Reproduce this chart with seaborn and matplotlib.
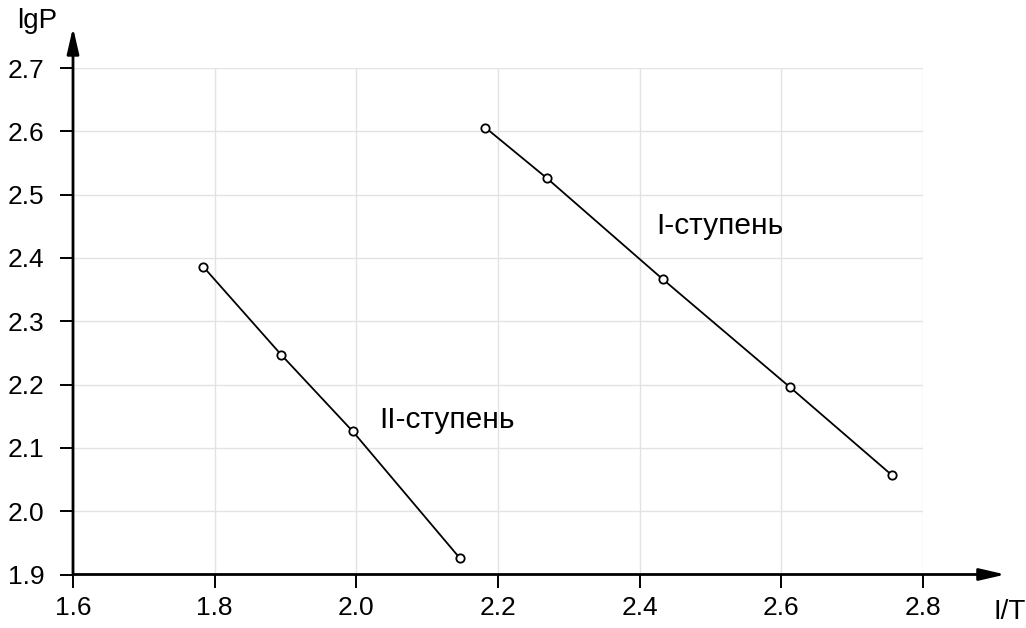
import pandas as pd
import matplotlib
matplotlib.use("Agg")
import matplotlib.pyplot as plt
import seaborn as sns

# Data
x_stage1 = [2.182, 2.269, 2.433, 2.612, 2.756]
y_stage1 = [2.606, 2.526, 2.366, 2.196, 2.057]
x_stage2 = [1.784, 1.894, 1.995, 2.146]
y_stage2 = [2.386, 2.247, 2.126, 1.926]
stage_names = ["I-ступень", "II-ступень"]
x_ticks = [1.6, 1.8, 2.0, 2.2, 2.4, 2.6, 2.8]
y_ticks = [1.9, 2.0, 2.1, 2.2, 2.3, 2.4, 2.5, 2.6, 2.7]

df = pd.concat([
    pd.DataFrame({"x": x_stage1, "y": y_stage1, "stage": stage_names[0]}),
    pd.DataFrame({"x": x_stage2, "y": y_stage2, "stage": stage_names[1]}),
])

sns.set_theme(style="white")
plt.rcParams["font.family"] = ["Liberation Sans", "DejaVu Sans"]
plt.rcParams["text.color"] = "black"
plt.rcParams["xtick.color"] = "black"
plt.rcParams["ytick.color"] = "black"

fig = plt.figure(figsize=(10.26, 6.28), dpi=100)
ax = fig.add_axes([73 / 1026, (628 - 574.5) / 628, 850 / 1026, 506.5 / 628])

sns.lineplot(data=df, x="x", y="y", units="stage", estimator=None, sort=False,
             color="black", linewidth=1.3, marker="o", markersize=6,
             markerfacecolor="white", markeredgecolor="black",
             markeredgewidth=1.3, ax=ax)

ax.set_xlim(1.6, 2.8)
ax.set_ylim(1.9, 2.7)
ax.set_xticks(x_ticks)
ax.set_yticks(y_ticks)
ax.set_xticklabels([f"{v:.1f}" for v in x_ticks])
ax.set_yticklabels([f"{v:.1f}" for v in y_ticks])
ax.grid(True, color="#e3e3e3", linewidth=1)
ax.set_axisbelow(True)
for s in ax.spines.values():
    s.set_visible(False)
ax.tick_params(axis="both", direction="out", length=9.5, width=1.4,
               color="black", labelsize=19, bottom=True, left=True)
ax.tick_params(axis="x", pad=6)
ax.tick_params(axis="y", pad=11)
ax.set_xlabel("")
ax.set_ylabel("")

# Arrowed axes
arrow = dict(arrowstyle="-|>,head_length=1.3,head_width=0.3",
             color="black", lw=2, shrinkA=0, shrinkB=0)
ax.annotate("", xy=(1.097, 0), xytext=(0, 0), xycoords="axes fraction",
            arrowprops=arrow, annotation_clip=False)
ax.annotate("", xy=(0, 1.08), xytext=(0, 0), xycoords="axes fraction",
            arrowprops=arrow, annotation_clip=False)

fig.text(17 / 1026, 1 - 21 / 628, "lgP", fontsize=20, va="center", ha="left")
fig.text(994 / 1026, 1 - 612 / 628, "I/T", fontsize=20, va="center", ha="left")

ax.text(2.424, 2.451, stage_names[0], fontsize=21.5, va="center", ha="left")
ax.text(2.032, 2.144, stage_names[1], fontsize=21.5, va="center", ha="left")

if ax.get_legend():
    ax.get_legend().remove()

fig.savefig("out.png", dpi=100)
